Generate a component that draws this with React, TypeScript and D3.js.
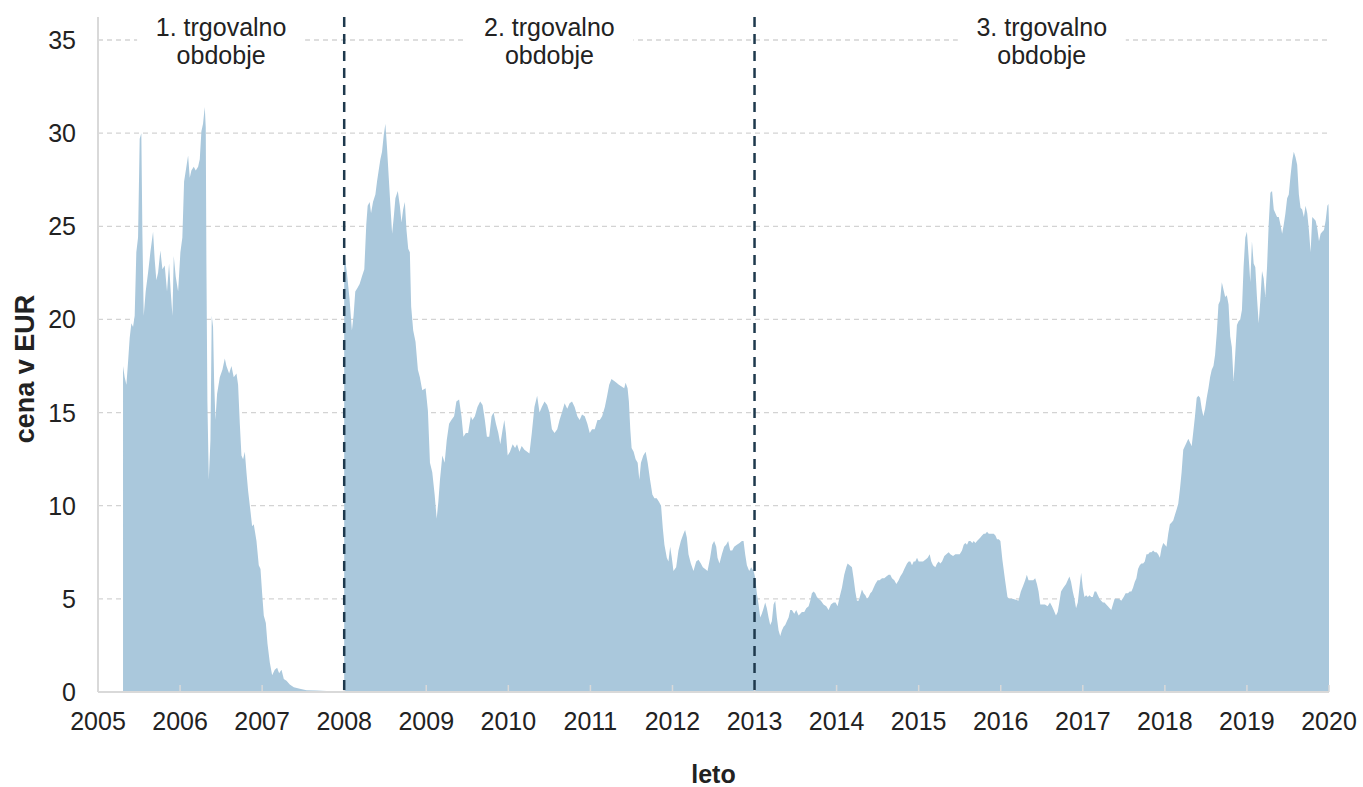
import { useEffect, useRef } from "react";
import * as d3 from "d3";

// EUA price in EUR as [decimal year, price]
const phase1: [number, number][] = [
  [2005.305, 17.5], [2005.325, 16.9], [2005.346, 16.5], [2005.366, 17.7], [2005.386, 19.0],
  [2005.407, 19.8], [2005.427, 19.6], [2005.447, 20.2], [2005.467, 23.6], [2005.488, 24.4],
  [2005.508, 29.7], [2005.528, 30.0], [2005.541, 24.6], [2005.557, 20.2], [2005.581, 21.5],
  [2005.61, 22.5], [2005.638, 23.6], [2005.671, 24.7], [2005.691, 23.2], [2005.711, 22.1],
  [2005.732, 22.5], [2005.76, 23.7], [2005.785, 22.7], [2005.813, 22.9], [2005.841, 21.5],
  [2005.866, 23.0], [2005.886, 21.5], [2005.907, 20.2], [2005.923, 23.4], [2005.947, 22.3],
  [2005.976, 21.5], [2006.004, 23.6], [2006.028, 24.4], [2006.049, 27.4], [2006.077, 28.2],
  [2006.098, 28.8], [2006.118, 27.6], [2006.138, 28.0], [2006.167, 28.2], [2006.191, 28.0],
  [2006.22, 28.2], [2006.24, 28.6], [2006.26, 30.1], [2006.28, 30.5], [2006.301, 31.4],
  [2006.313, 30.3], [2006.321, 23.0], [2006.333, 15.6], [2006.35, 11.4], [2006.37, 13.5],
  [2006.386, 20.2], [2006.402, 19.6], [2006.415, 16.7], [2006.431, 14.6], [2006.451, 16.0],
  [2006.484, 16.9], [2006.516, 17.3], [2006.545, 17.9], [2006.565, 17.5], [2006.598, 17.1],
  [2006.626, 17.5], [2006.654, 16.9], [2006.687, 17.1], [2006.707, 16.5], [2006.728, 14.4],
  [2006.748, 12.7], [2006.768, 12.5], [2006.789, 12.9], [2006.809, 11.8], [2006.829, 10.8],
  [2006.858, 9.7], [2006.878, 8.9], [2006.898, 9.0], [2006.931, 8.1], [2006.959, 6.8],
  [2006.98, 6.6], [2007.0, 5.3], [2007.02, 4.1], [2007.045, 3.7], [2007.065, 2.6],
  [2007.093, 1.6], [2007.122, 0.9], [2007.154, 1.2], [2007.183, 1.3], [2007.207, 1.0],
  [2007.236, 1.2], [2007.264, 0.7], [2007.297, 0.6], [2007.337, 0.4], [2007.386, 0.25],
  [2007.459, 0.17], [2007.541, 0.1], [2007.663, 0.08], [2007.785, 0.06], [2007.907, 0.04],
  [2008.0, 0.02],
];

const phase2: [number, number][] = [
  [2008.0, 23.6], [2008.033, 22.5], [2008.065, 21.1], [2008.094, 19.4], [2008.114, 20.2],
  [2008.135, 21.5], [2008.163, 21.7], [2008.188, 21.9], [2008.216, 22.3], [2008.245, 22.7],
  [2008.269, 25.1], [2008.286, 26.1], [2008.31, 26.3], [2008.327, 25.7], [2008.351, 26.3],
  [2008.38, 26.7], [2008.4, 27.4], [2008.42, 28.0], [2008.441, 28.6], [2008.461, 29.0],
  [2008.482, 29.9], [2008.502, 30.5], [2008.522, 29.2], [2008.543, 27.6], [2008.563, 26.1],
  [2008.584, 24.6], [2008.604, 25.5], [2008.624, 26.5], [2008.653, 26.9], [2008.678, 26.1],
  [2008.698, 25.2], [2008.718, 25.9], [2008.739, 26.3], [2008.759, 24.8], [2008.78, 23.8],
  [2008.8, 23.6], [2008.816, 20.7], [2008.841, 19.4], [2008.869, 18.8], [2008.898, 17.3],
  [2008.922, 16.9], [2008.951, 16.2], [2008.992, 16.3], [2009.02, 15.1], [2009.045, 12.3],
  [2009.073, 11.8], [2009.102, 10.6], [2009.127, 9.3], [2009.147, 10.2], [2009.167, 11.4],
  [2009.196, 12.7], [2009.224, 12.3], [2009.249, 13.5], [2009.278, 14.4], [2009.306, 14.6],
  [2009.339, 14.8], [2009.367, 15.6], [2009.4, 15.7], [2009.429, 14.8], [2009.453, 13.7],
  [2009.482, 13.9], [2009.51, 13.9], [2009.543, 14.8], [2009.563, 14.6], [2009.592, 14.8],
  [2009.624, 15.3], [2009.657, 15.6], [2009.686, 15.4], [2009.714, 14.6], [2009.739, 13.7],
  [2009.767, 13.7], [2009.796, 14.8], [2009.82, 15.0], [2009.849, 14.4], [2009.878, 13.9],
  [2009.902, 13.3], [2009.931, 14.1], [2009.951, 14.6], [2009.971, 13.9], [2009.992, 12.7],
  [2010.02, 12.9], [2010.053, 13.3], [2010.082, 13.1], [2010.106, 13.3], [2010.135, 12.9],
  [2010.163, 13.2], [2010.196, 13.0], [2010.229, 12.9], [2010.257, 12.8], [2010.286, 13.9],
  [2010.318, 15.3], [2010.351, 15.9], [2010.38, 15.0], [2010.408, 15.3], [2010.441, 15.6],
  [2010.473, 15.4], [2010.502, 15.0], [2010.531, 14.1], [2010.563, 13.9], [2010.596, 14.1],
  [2010.624, 14.6], [2010.653, 15.0], [2010.686, 15.5], [2010.718, 15.2], [2010.747, 15.5],
  [2010.776, 15.6], [2010.808, 15.3], [2010.841, 14.8], [2010.869, 14.6], [2010.898, 14.9],
  [2010.931, 14.8], [2010.963, 14.4], [2010.992, 13.9], [2011.02, 14.1], [2011.053, 14.1],
  [2011.086, 14.6], [2011.114, 14.6], [2011.143, 14.8], [2011.176, 15.3], [2011.204, 15.9],
  [2011.229, 16.5], [2011.257, 16.8], [2011.29, 16.7], [2011.318, 16.6], [2011.347, 16.5],
  [2011.38, 16.4], [2011.412, 16.3], [2011.429, 16.6], [2011.453, 16.3], [2011.469, 15.6],
  [2011.486, 14.1], [2011.502, 13.1], [2011.527, 12.9], [2011.551, 12.5], [2011.576, 12.3],
  [2011.596, 11.4], [2011.616, 12.3], [2011.645, 12.7], [2011.673, 12.9], [2011.698, 12.3],
  [2011.727, 11.4], [2011.755, 10.6], [2011.78, 10.4], [2011.808, 10.4], [2011.837, 10.2],
  [2011.861, 10.0], [2011.882, 8.8], [2011.902, 7.9], [2011.931, 7.2], [2011.951, 7.0],
  [2011.972, 7.8], [2011.992, 7.2], [2012.012, 6.5], [2012.045, 6.7], [2012.073, 7.6],
  [2012.102, 8.1], [2012.134, 8.5], [2012.154, 8.7], [2012.175, 8.3], [2012.195, 7.4],
  [2012.224, 6.9], [2012.256, 6.5], [2012.289, 7.0], [2012.317, 7.1], [2012.346, 6.9],
  [2012.37, 6.7], [2012.398, 6.6], [2012.427, 6.5], [2012.459, 7.2], [2012.484, 7.9],
  [2012.508, 8.1], [2012.533, 7.8], [2012.549, 7.2], [2012.573, 6.9], [2012.602, 7.4],
  [2012.63, 7.8], [2012.654, 7.9], [2012.679, 8.1], [2012.703, 7.6], [2012.728, 7.6],
  [2012.752, 7.8], [2012.785, 7.9], [2012.817, 8.0], [2012.846, 8.1], [2012.866, 8.1],
  [2012.886, 7.4], [2012.907, 6.8], [2012.935, 6.5], [2012.959, 6.7], [2012.988, 6.5],
  [2013.0, 6.3],
];

const phase3: [number, number][] = [
  [2013.012, 6.0], [2013.028, 5.3], [2013.049, 4.7], [2013.069, 4.0], [2013.089, 4.2],
  [2013.11, 4.5], [2013.13, 4.8], [2013.15, 4.5], [2013.171, 4.0], [2013.191, 3.6],
  [2013.211, 3.8], [2013.232, 4.7], [2013.252, 4.9], [2013.272, 4.0], [2013.293, 3.3],
  [2013.313, 3.0], [2013.333, 3.3], [2013.354, 3.5], [2013.374, 3.6], [2013.394, 3.8],
  [2013.415, 4.0], [2013.435, 4.4], [2013.455, 4.4], [2013.484, 4.2], [2013.508, 4.4],
  [2013.537, 4.1], [2013.557, 4.2], [2013.577, 4.3], [2013.606, 4.3], [2013.63, 4.5],
  [2013.659, 4.6], [2013.679, 4.9], [2013.699, 5.3], [2013.72, 5.4], [2013.74, 5.3],
  [2013.76, 5.1], [2013.78, 5.0], [2013.809, 4.9], [2013.841, 4.7], [2013.874, 4.6],
  [2013.902, 4.4], [2013.931, 4.7], [2013.963, 4.8], [2013.988, 4.8], [2014.012, 4.6],
  [2014.037, 5.1], [2014.065, 5.6], [2014.093, 6.3], [2014.118, 6.7], [2014.134, 6.9],
  [2014.159, 6.8], [2014.187, 6.7], [2014.207, 6.1], [2014.228, 5.4], [2014.248, 4.9],
  [2014.268, 4.9], [2014.289, 5.2], [2014.309, 5.5], [2014.329, 5.3], [2014.35, 5.2],
  [2014.37, 5.0], [2014.39, 5.1], [2014.411, 5.3], [2014.431, 5.4], [2014.451, 5.6],
  [2014.472, 5.8], [2014.5, 6.0], [2014.524, 6.0], [2014.553, 6.1], [2014.581, 6.1],
  [2014.606, 6.2], [2014.634, 6.3], [2014.654, 6.3], [2014.675, 6.1], [2014.703, 6.0],
  [2014.728, 5.8], [2014.756, 6.0], [2014.776, 6.2], [2014.805, 6.4], [2014.825, 6.6],
  [2014.858, 6.9], [2014.878, 7.0], [2014.898, 7.0], [2014.919, 6.8], [2014.939, 7.0],
  [2014.959, 7.0], [2014.98, 7.2], [2015.0, 7.0], [2015.028, 7.0], [2015.053, 7.0],
  [2015.081, 7.1], [2015.11, 7.2], [2015.134, 7.4], [2015.154, 7.0], [2015.175, 6.8],
  [2015.203, 6.7], [2015.224, 6.9], [2015.244, 7.0], [2015.264, 6.9], [2015.285, 7.0],
  [2015.313, 7.3], [2015.337, 7.4], [2015.366, 7.5], [2015.386, 7.4], [2015.419, 7.3],
  [2015.447, 7.4], [2015.476, 7.4], [2015.5, 7.4], [2015.528, 7.6], [2015.549, 7.9],
  [2015.569, 8.0], [2015.589, 7.9], [2015.61, 8.1], [2015.63, 8.1], [2015.654, 8.0],
  [2015.671, 8.1], [2015.691, 8.0], [2015.711, 8.1], [2015.732, 8.2], [2015.752, 8.3],
  [2015.772, 8.4], [2015.793, 8.5], [2015.813, 8.5], [2015.833, 8.6], [2015.854, 8.5],
  [2015.874, 8.5], [2015.894, 8.5], [2015.915, 8.5], [2015.935, 8.4], [2015.955, 8.2],
  [2015.976, 8.2], [2015.996, 8.1], [2016.02, 7.1], [2016.053, 6.0], [2016.082, 5.1],
  [2016.102, 5.0], [2016.143, 5.0], [2016.184, 4.95], [2016.216, 4.9], [2016.245, 5.4],
  [2016.273, 5.7], [2016.298, 6.0], [2016.318, 6.3], [2016.339, 6.0], [2016.367, 6.0],
  [2016.396, 6.0], [2016.42, 6.1], [2016.441, 5.8], [2016.461, 5.4], [2016.482, 4.7],
  [2016.51, 4.7], [2016.539, 4.7], [2016.571, 4.6], [2016.6, 4.8], [2016.624, 4.6],
  [2016.645, 4.4], [2016.673, 4.1], [2016.694, 4.3], [2016.714, 4.8], [2016.735, 5.4],
  [2016.763, 5.6], [2016.796, 5.8], [2016.816, 6.0], [2016.837, 6.2], [2016.857, 5.9],
  [2016.878, 5.4], [2016.898, 5.0], [2016.918, 4.5], [2016.939, 4.8], [2016.959, 5.6],
  [2016.98, 6.4], [2017.0, 5.6], [2017.02, 5.1], [2017.041, 5.2], [2017.061, 5.1],
  [2017.082, 5.2], [2017.102, 5.1], [2017.122, 5.1], [2017.143, 5.4], [2017.163, 5.4],
  [2017.184, 5.2], [2017.204, 5.0], [2017.224, 4.9], [2017.245, 4.8], [2017.265, 4.8],
  [2017.286, 4.7], [2017.306, 4.6], [2017.327, 4.5], [2017.347, 4.4], [2017.367, 4.7],
  [2017.388, 5.0], [2017.416, 5.0], [2017.441, 5.0], [2017.469, 4.9], [2017.498, 5.1],
  [2017.522, 5.3], [2017.551, 5.3], [2017.571, 5.4], [2017.592, 5.4], [2017.612, 5.6],
  [2017.633, 5.9], [2017.653, 6.1], [2017.673, 6.6], [2017.694, 6.8], [2017.714, 6.9],
  [2017.735, 6.9], [2017.755, 7.0], [2017.776, 7.4], [2017.796, 7.4], [2017.816, 7.5],
  [2017.837, 7.5], [2017.857, 7.6], [2017.878, 7.5], [2017.898, 7.5], [2017.918, 7.4],
  [2017.939, 7.2], [2017.959, 7.7], [2017.98, 8.0], [2018.0, 7.9], [2018.02, 7.8],
  [2018.041, 8.5], [2018.061, 9.0], [2018.082, 9.1], [2018.102, 9.2], [2018.122, 9.5],
  [2018.143, 9.8], [2018.163, 10.1], [2018.184, 10.9], [2018.204, 11.8], [2018.224, 13.0],
  [2018.245, 13.2], [2018.265, 13.4], [2018.286, 13.6], [2018.306, 13.4], [2018.327, 13.2],
  [2018.347, 14.0], [2018.367, 14.8], [2018.388, 15.8], [2018.408, 15.9], [2018.429, 15.8],
  [2018.449, 15.2], [2018.469, 14.8], [2018.49, 15.2], [2018.51, 15.8], [2018.531, 16.3],
  [2018.551, 16.9], [2018.571, 17.3], [2018.592, 17.5], [2018.612, 18.1], [2018.633, 19.3],
  [2018.653, 20.8], [2018.673, 21.0], [2018.694, 22.0], [2018.714, 21.6], [2018.735, 21.2],
  [2018.755, 21.3], [2018.776, 20.8], [2018.796, 19.1], [2018.816, 18.5], [2018.837, 16.7],
  [2018.857, 18.1], [2018.878, 19.7], [2018.898, 19.9], [2018.918, 20.0], [2018.939, 20.5],
  [2018.959, 22.8], [2018.98, 24.4], [2019.0, 24.7], [2019.02, 23.4], [2019.041, 22.0],
  [2019.061, 24.2], [2019.082, 23.0], [2019.102, 22.8], [2019.122, 21.2], [2019.143, 19.8],
  [2019.163, 21.0], [2019.184, 22.6], [2019.204, 22.2], [2019.224, 21.2], [2019.245, 22.8],
  [2019.265, 25.1], [2019.286, 26.8], [2019.306, 26.9], [2019.327, 25.9], [2019.347, 25.7],
  [2019.367, 25.5], [2019.388, 25.5], [2019.408, 25.1], [2019.429, 24.6], [2019.449, 25.1],
  [2019.469, 25.7], [2019.49, 26.5], [2019.51, 26.7], [2019.531, 27.7], [2019.551, 28.5],
  [2019.571, 29.0], [2019.592, 28.7], [2019.612, 28.3], [2019.633, 26.7], [2019.653, 26.0],
  [2019.673, 25.9], [2019.694, 25.5], [2019.714, 26.1], [2019.735, 25.7], [2019.755, 24.8],
  [2019.776, 23.6], [2019.796, 25.5], [2019.816, 25.4], [2019.837, 25.3], [2019.857, 24.9],
  [2019.878, 24.2], [2019.898, 24.6], [2019.918, 24.7], [2019.939, 24.8], [2019.959, 25.3],
  [2019.98, 26.1], [2019.993, 26.2], [2020.0, 25.2],
];

const yTicks = [0, 5, 10, 15, 20, 25, 30, 35];
const xTicks = [2005, 2006, 2007, 2008, 2009, 2010, 2011, 2012, 2013, 2014, 2015, 2016, 2017, 2018, 2019, 2020];
const periodStarts = [2005, 2008, 2013];
const periodEnds = [2008, 2013, 2020];
const periodLabels = ["1. trgovalno", "2. trgovalno", "3. trgovalno"];
const periodLabel2 = "obdobje";
const periodBreaks = [2008, 2013];

const WIDTH = 1363;
const HEIGHT = 787;
const FONT = "'Liberation Sans', Arial, Helvetica, sans-serif";

export default function App() {
  const svgRef = useRef<SVGSVGElement>(null);

  useEffect(() => {
    if (!svgRef.current) return;
    const margin = { top: 17, right: 34, bottom: 95, left: 98 };
    const plotBottom = HEIGHT - margin.bottom;

    const svg = d3.select(svgRef.current);
    svg.selectAll("*").remove();

    const x = d3.scaleLinear().domain([2005, 2020]).range([margin.left, WIDTH - margin.right]);
    const y = d3.scaleLinear().domain([0, 35]).range([plotBottom, 40]);

    // Grid lines
    svg.append("g")
      .selectAll("line")
      .data(yTicks.filter(t => t > 0))
      .join("line")
      .attr("x1", margin.left).attr("x2", WIDTH - margin.right)
      .attr("y1", d => y(d)).attr("y2", d => y(d))
      .attr("stroke", "#d3d3d3")
      .attr("stroke-width", 1.3)
      .attr("stroke-dasharray", "5,4");

    // Area
    const series = [...phase1, ...phase2, ...phase3];
    const area = d3.area<[number, number]>()
      .x(d => x(d[0]))
      .y0(y(0))
      .y1(d => y(d[1]));

    svg.append("path")
      .datum(series)
      .attr("fill", "#aac8dc")
      .attr("d", area);

    // Small year ticks over the area
    svg.append("g")
      .selectAll("line")
      .data(xTicks.slice(1))
      .join("line")
      .attr("x1", d => x(d)).attr("x2", d => x(d))
      .attr("y1", plotBottom).attr("y2", plotBottom - 7)
      .attr("stroke", "#d9d9d9")
      .attr("stroke-width", 1.5);

    // Axis lines
    svg.append("line")
      .attr("x1", margin.left).attr("x2", WIDTH - margin.right)
      .attr("y1", plotBottom).attr("y2", plotBottom)
      .attr("stroke", "#d9d9d9").attr("stroke-width", 2);
    svg.append("line")
      .attr("x1", margin.left).attr("x2", margin.left)
      .attr("y1", margin.top).attr("y2", plotBottom)
      .attr("stroke", "#d9d9d9").attr("stroke-width", 2);

    // Period boundaries
    svg.append("g")
      .selectAll("line")
      .data(periodBreaks)
      .join("line")
      .attr("x1", d => x(d)).attr("x2", d => x(d))
      .attr("y1", margin.top).attr("y2", plotBottom)
      .attr("stroke", "#1e394d")
      .attr("stroke-width", 2.5)
      .attr("stroke-dasharray", "10,7");

    // Period labels
    const labels = svg.append("g")
      .selectAll("g")
      .data(periodLabels)
      .join("g")
      .attr("transform", (_, i) => `translate(${(x(periodStarts[i]) + x(periodEnds[i])) / 2},0)`);

    labels.append("rect")
      .attr("x", -84).attr("width", 168)
      .attr("y", 18).attr("height", 52)
      .attr("fill", "#fff");

    labels.append("text")
      .attr("y", 36)
      .attr("text-anchor", "middle")
      .attr("font-family", FONT).attr("font-size", 25).attr("fill", "#222")
      .text(d => d);

    labels.append("text")
      .attr("y", 64)
      .attr("text-anchor", "middle")
      .attr("font-family", FONT).attr("font-size", 25).attr("fill", "#222")
      .text(periodLabel2);

    // Y tick labels
    svg.append("g")
      .selectAll("text")
      .data(yTicks)
      .join("text")
      .attr("x", margin.left - 22)
      .attr("y", d => y(d))
      .attr("dy", "0.36em")
      .attr("text-anchor", "end")
      .attr("font-family", FONT).attr("font-size", 25).attr("fill", "#222")
      .text(d => d);

    // X tick labels
    svg.append("g")
      .selectAll("text")
      .data(xTicks)
      .join("text")
      .attr("x", d => x(d))
      .attr("y", 730)
      .attr("text-anchor", "middle")
      .attr("font-family", FONT).attr("font-size", 25).attr("fill", "#222")
      .text(d => d);

    // Axis titles
    svg.append("text")
      .attr("x", (margin.left + WIDTH - margin.right) / 2)
      .attr("y", 783)
      .attr("text-anchor", "middle")
      .attr("font-family", FONT).attr("font-size", 25).attr("font-weight", "bold").attr("fill", "#222")
      .text("leto");

    svg.append("text")
      .attr("transform", "translate(34,369) rotate(-90)")
      .attr("text-anchor", "middle")
      .attr("font-family", FONT).attr("font-size", 27).attr("font-weight", "bold").attr("fill", "#222")
      .text("cena v EUR");
  }, []);

  return (
    <div style={{ position: "absolute", left: 0, top: 0, background: "#fff" }}>
      <svg ref={svgRef} width={WIDTH} height={HEIGHT} style={{ display: "block" }} />
    </div>
  );
}
